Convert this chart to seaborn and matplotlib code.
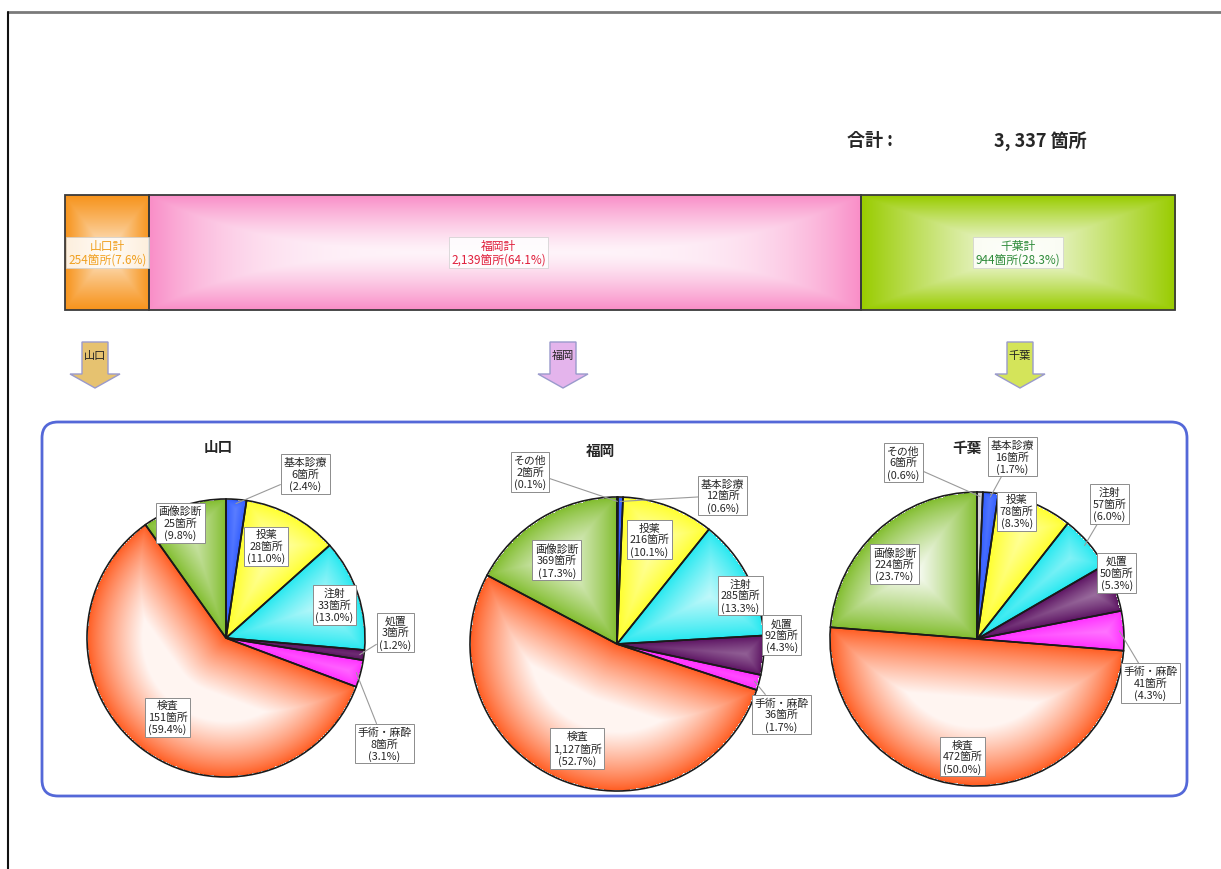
"""
Recreate the regional breakdown chart: a stacked total bar on top and
three pie charts (山口 / 福岡 / 千葉) underneath, inside a rounded frame.
"""

import numpy as np
import matplotlib
matplotlib.use('Agg')
import matplotlib.pyplot as plt
import seaborn as sns
from matplotlib.patches import FancyBboxPatch, Polygon
from matplotlib.colors import to_rgb

# ---- data -------------------------------------------------------------
regions = ['山口', '福岡', '千葉']
region_totals = [254, 2139, 944]

categories = ['その他', '基本診療', '投薬', '注射', '処置', '手術・麻酔', '検査', '画像診断']
yamaguchi_counts = [0, 6, 28, 33, 3, 8, 151, 25]
fukuoka_counts = [2, 12, 216, 285, 92, 36, 1127, 369]
chiba_counts = [6, 16, 78, 57, 50, 41, 472, 224]

# ---- style ------------------------------------------------------------
sns.set_theme(style='white')
plt.rcParams['font.family'] = ['Noto Sans CJK JP', 'DejaVu Sans']

cat_colors = ['#d0d0d0', '#2f5bff', '#ffff2a', '#22e8f0', '#5a1060',
              '#ff2cff', '#ff5a1e', '#7fbc2a']
bar_colors = ['#f7941d', '#f98fc8', '#99cc00']
bar_text_colors = ['#f0a020', '#e0203c', '#2e8b3a']
arrow_colors = ['#e6c270', '#e4b4ec', '#d4e45a']

W, H = 1221, 870
fig = plt.figure(figsize=(W / 100, H / 100), dpi=100)
fig.patch.set_facecolor('white')

# background axes in pixel coordinates
bg = fig.add_axes([0, 0, 1, 1])
bg.set_xlim(0, W)
bg.set_ylim(H, 0)
bg.axis('off')

bg.plot([8, W], [13, 13], color='#7a7a7a', lw=2)
bg.plot([8, 8], [13, H], color='#111111', lw=1.5)

total = sum(region_totals)
bg.text(870, 141, '合計 :', fontsize=13, fontweight='bold', ha='center', va='center')
bg.text(1040, 141, f'{total:,}'.replace(',', ', ') + ' 箇所', fontsize=13,
        fontweight='bold', ha='center', va='center')


def gradient_fill(ax, patch, extent, color, field, strength=0.95):
    """Paint patch with a colour that fades to white where field -> 1."""
    c = np.array(to_rgb(color))
    mix = strength * np.clip(field, 0, 1)[..., None]
    img = c + (1 - c) * mix
    im = ax.imshow(img, extent=extent, origin='lower', aspect='auto',
                   interpolation='bilinear', zorder=patch.get_zorder() - 0.1)
    im.set_clip_path(patch)
    patch.set_facecolor('none')


# ---- stacked total bar ------------------------------------------------
bar_ax = fig.add_axes([65 / W, 1 - 311 / H, 1110 / W, 115 / H])
lefts = np.cumsum([0] + region_totals[:-1])
bars = bar_ax.barh(0, region_totals, left=lefts, height=1.0,
                   edgecolor='#3a3a3a', linewidth=1.3, zorder=2)
u, v = np.meshgrid(np.linspace(-1, 1, 200), np.linspace(-1, 1, 60))
fields = [
    1 - np.maximum(np.abs(u), np.abs(v)) ** 0.8,
    1 - np.maximum(np.abs(v) ** 1.3, np.abs(u) ** 4),
    1 - np.maximum(np.abs(u) ** 1.2, np.abs(v) ** 1.2),
]
for i, b in enumerate(bars):
    b.set_clip_on(False)
    ext = (b.get_x(), b.get_x() + b.get_width(), -0.5, 0.5)
    gradient_fill(bar_ax, b, ext, bar_colors[i], fields[i], strength=0.9)
    pct = region_totals[i] / total * 100
    bar_ax.text(b.get_x() + b.get_width() / 2 - (20 if i == 1 else 0), 0,
                f'{regions[i]}計\n{region_totals[i]:,}箇所({pct:.1f}%)',
                ha='center', va='center', fontsize=8.5, color=bar_text_colors[i],
                linespacing=1.1, zorder=5,
                bbox=dict(boxstyle='square,pad=0.2', fc='white', ec='#cfcfcf',
                          lw=0.6, alpha=0.85))
bar_ax.set_xlim(0, total)
bar_ax.set_ylim(-0.5, 0.5)
bar_ax.axis('off')

# ---- down arrows ------------------------------------------------------
arrow_x = [95, 563, 1020]
for x, col, name in zip(arrow_x, arrow_colors, regions):
    shape = [(x - 13, 343), (x + 13, 343), (x + 13, 375), (x + 25, 375),
             (x, 389), (x - 25, 375), (x - 13, 375)]
    bg.add_patch(Polygon(shape, closed=True, fc=col, ec='#9a9acc', lw=1.0))
    bg.text(x, 356, name, fontsize=8, ha='center', va='center', color='#222222')

# ---- rounded frame round the pies -------------------------------------
bg.add_patch(FancyBboxPatch((42, 423), 1145, 374,
                            boxstyle='round,pad=0,rounding_size=16',
                            fc='none', ec='#5468d8', lw=2))

# ---- pies -------------------------------------------------------------
# label positions in units of pie radius (relative to the pie centre)
label_pos = {
    '山口': {'基本診療': (0.57, 1.18), '投薬': (0.29, 0.66), '注射': (0.78, 0.24),
            '処置': (1.22, 0.04), '手術・麻酔': (1.14, -0.76),
            '検査': (-0.42, -0.57), '画像診断': (-0.33, 0.83)},
    '福岡': {'その他': (-0.59, 1.17), '基本診療': (0.72, 1.01), '投薬': (0.22, 0.71),
            '注射': (0.84, 0.33), '処置': (1.12, 0.06), '手術・麻酔': (1.12, -0.48),
            '検査': (-0.27, -0.71), '画像診断': (-0.41, 0.57)},
    '千葉': {'その他': (-0.50, 1.20), '基本診療': (0.24, 1.24), '投薬': (0.27, 0.87),
            '注射': (0.90, 0.92), '処置': (0.95, 0.45), '手術・麻酔': (1.18, -0.30),
            '検査': (-0.10, -0.80), '画像診断': (-0.56, 0.51)},
}
leaders = {
    '山口': ['基本診療', '処置', '手術・麻酔'],
    '福岡': ['その他', '基本診療', '手術・麻酔'],
    '千葉': ['その他', '基本診療', '注射', '手術・麻酔'],
}
pie_geom = {'山口': (226, 639, 139), '福岡': (617, 645, 147), '千葉': (977, 640, 147)}
title_xy = {'山口': (218, 447), '福岡': (600, 451), '千葉': (967, 448)}
all_counts = {'山口': yamaguchi_counts, '福岡': fukuoka_counts, '千葉': chiba_counts}

L = 1.45
gx, gy = np.meshgrid(np.linspace(-1.02, 1.02, 420), np.linspace(-1.02, 1.02, 420))
rr = np.hypot(gx, gy)
phi = np.degrees(np.arctan2(gy, gx))


def edge_dist(alpha):
    diff = np.abs((phi - alpha + 180) % 360 - 180)
    return np.where(diff < 90, rr * np.sin(np.radians(diff)), rr)


for name in regions:
    cx, cy, r = pie_geom[name]
    ax = fig.add_axes([(cx - L * r) / W, 1 - (cy + L * r) / H, 2 * L * r / W, 2 * L * r / H])
    counts = all_counts[name]
    keep = [i for i, c in enumerate(counts) if c > 0]
    vals = [counts[i] for i in keep]
    wedges, _ = ax.pie(vals, colors=[cat_colors[i] for i in keep], startangle=90,
                       counterclock=False, radius=1.0,
                       wedgeprops=dict(edgecolor='#1a1a1a', linewidth=1.2))
    tot = sum(vals)
    for w, i in zip(wedges, keep):
        w.set_zorder(3)
        d = np.minimum(1 - rr, np.minimum(edge_dist(w.theta1), edge_dist(w.theta2)))
        gradient_fill(ax, w, (-1.02, 1.02, -1.02, 1.02), cat_colors[i],
                      (d / 0.4) ** 0.85, strength=0.94)
        cat = categories[i]
        txt = f'{cat}\n{counts[i]:,}箇所\n({counts[i] / tot * 100:.1f}%)'
        pos = label_pos[name][cat]
        box = dict(boxstyle='square,pad=0.25', fc='white', ec='#8c8c8c', lw=0.7)
        if cat in leaders[name]:
            mid = np.radians((w.theta1 + w.theta2) / 2)
            ax.annotate(txt, xy=(0.97 * np.cos(mid), 0.97 * np.sin(mid)), xytext=pos,
                        ha='center', va='center', fontsize=7.8, linespacing=1.15,
                        bbox=box, zorder=6,
                        arrowprops=dict(arrowstyle='-', color='#9a9a9a', lw=0.8,
                                        shrinkA=0, shrinkB=0))
        else:
            ax.text(pos[0], pos[1], txt, ha='center', va='center', fontsize=7.8,
                    linespacing=1.15, bbox=box, zorder=6)
    ax.set_xlim(-L, L)
    ax.set_ylim(-L, L)
    ax.axis('off')
    tx, ty = title_xy[name]
    bg.text(tx, ty, name, fontsize=10.5, fontweight='bold', ha='center', va='center')

fig.savefig('out.png', dpi=100)
